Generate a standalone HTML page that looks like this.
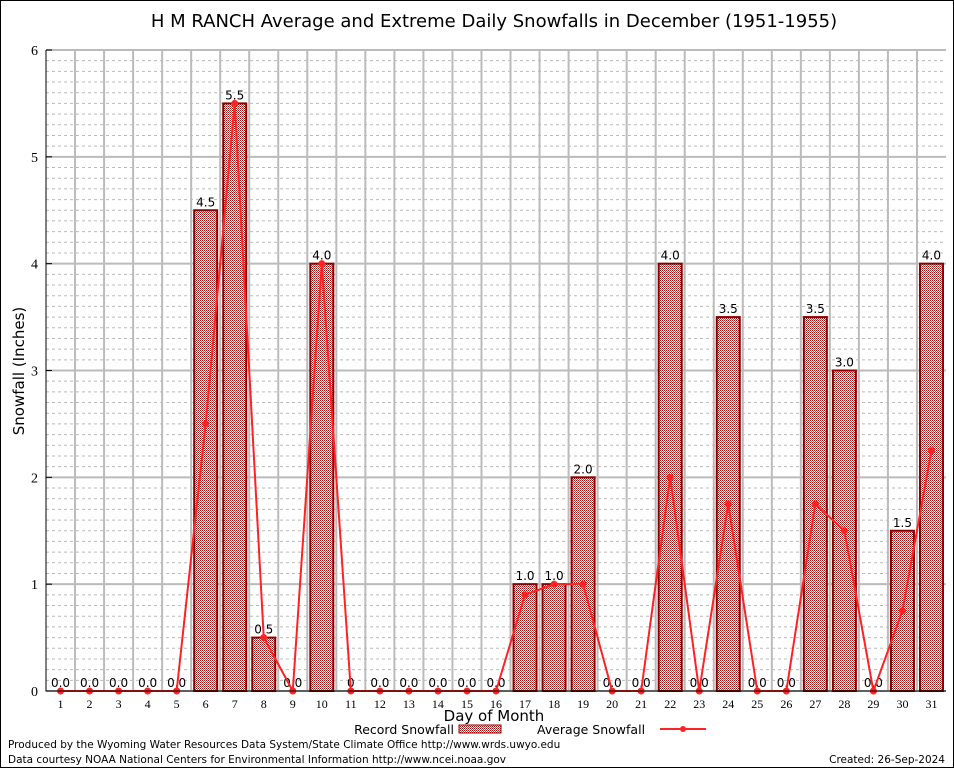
<!DOCTYPE html>
<html><head><meta charset="utf-8"><style>
body{margin:0;background:#fff;}
svg{display:block;font-family:"DejaVu Sans",sans-serif;}
</style></head><body>
<svg id="chart" width="954" height="768">
<defs>
<pattern id="chk" width="2" height="2" patternUnits="userSpaceOnUse">
<rect width="2" height="2" fill="#fff"/><rect width="1" height="1" fill="#a01010"/><rect x="1" y="1" width="1" height="1" fill="#c05050"/>
</pattern>
</defs>
<rect x="0.5" y="0.5" width="953" height="767" fill="#fff" stroke="#000"/>
<text x="494" y="27" font-size="18" text-anchor="middle">H M RANCH Average and Extreme Daily Snowfalls in December (1951-1955)</text>
<g id="grid"></g>
<g id="bars"></g>
<g id="line"></g>
<g id="axes"></g>
<text transform="translate(24,371) rotate(-90)" font-size="15" text-anchor="middle">Snowfall (Inches)</text>
<text x="494" y="721" font-size="15" text-anchor="middle">Day of Month</text>
<g>
<text x="454" y="734" font-size="12.5" text-anchor="end">Record Snowfall</text>
<rect x="459" y="725" width="42" height="8" fill="url(#chk)" stroke="#8b0000"/>
<text x="537" y="734" font-size="12.5">Average Snowfall</text>
<line x1="660" y1="729" x2="706" y2="729" stroke="#f22" stroke-width="2"/>
<circle cx="683" cy="729" r="3" fill="#f22"/>
</g>
<text x="8" y="748" font-size="10.5">Produced by the Wyoming Water Resources Data System/State Climate Office http://www.wrds.uwyo.edu</text>
<text x="8" y="763" font-size="10.5">Data courtesy NOAA National Centers for Environmental Information http://www.ncei.noaa.gov</text>
<text x="945" y="763" font-size="10.5" text-anchor="end">Created:  26-Sep-2024</text>
</svg>
<script>
const days=[1,2,3,4,5,6,7,8,9,10,11,12,13,14,15,16,17,18,19,20,21,22,23,24,25,26,27,28,29,30,31];
const recordValues=[0,0,0,0,0,4.5,5.5,0.5,0,4.0,null,0,0,0,0,0,1.0,1.0,2.0,0,0,4.0,0,3.5,0,0,3.5,3.0,0,1.5,4.0];
const recordLabels=["0.0","0.0","0.0","0.0","0.0","4.5","5.5","0.5","0.0","4.0","0","0.0","0.0","0.0","0.0","0.0","1.0","1.0","2.0","0.0","0.0","4.0","0.0","3.5","0.0","0.0","3.5","3.0","0.0","1.5","4.0"];
const avgValues=[0,0,0,0,0,2.5,5.5,0.5,0,4.0,0,0,0,0,0,0,0.9,1.0,1.0,0,0,2.0,0,1.75,0,0,1.75,1.5,0,0.75,2.25];
const yTicks=[0,1,2,3,4,5,6];
const NS="http://www.w3.org/2000/svg";
const L=46,R=946,T=50,B=691,yMax=6;
const bw=(R-L)/days.length;
function x(d){return L+(d-0.5)*bw;}
function y(v){return B-(v/yMax)*(B-T);}
function mk(tag,attrs,parent){const e=document.createElementNS(NS,tag);for(const k in attrs)e.setAttribute(k,attrs[k]);parent.appendChild(e);return e;}
const grid=document.getElementById('grid'),bars=document.getElementById('bars'),line=document.getElementById('line'),axes=document.getElementById('axes');
for(let i=0;i<=yMax*10;i++){const v=i/10;if(i%10===0)continue;
 const g=mk('line',{x1:L,x2:R,y1:y(v),y2:y(v),stroke:'#bbb','stroke-dasharray':'3,3'},grid);
 }
for(let i=1;i<days.length;i++){const g=mk('line',{x1:L+i*bw,x2:L+i*bw,y1:T,y2:B,stroke:'#bbb','stroke-width':2},grid);
 }
yTicks.forEach(v=>{const g=mk('line',{x1:L,x2:R,y1:y(v),y2:y(v),stroke:'#bbb','stroke-width':2},grid);
 
 const t=mk('text',{x:L-8,y:y(v)+5,'font-size':14,'text-anchor':'end','font-family':'Liberation Serif, serif'},axes);t.textContent=v;
 
 const tk=mk('line',{x1:L,x2:L+6,y1:y(v),y2:y(v),stroke:'#000'},axes);
 });
days.forEach((d,i)=>{const v=recordValues[i];
 if(v>0){const r=mk('rect',{x:x(d)-11.5,y:y(v),width:23,height:B-y(v),fill:'url(#chk)',stroke:'#8b0000','stroke-width':2},bars);
  }
 const lb=mk('text',{x:x(d),y:y(v||0)-4,'font-size':12,'text-anchor':'middle'},bars);lb.textContent=recordLabels[i];
 
 const t=mk('text',{x:x(d),y:B+17,'font-size':12,'text-anchor':'middle','font-family':'Liberation Serif, serif'},axes);t.textContent=d;
 });
const pl=mk('polyline',{points:days.map((d,i)=>x(d)+','+y(avgValues[i])).join(' '),fill:'none',stroke:'#f22','stroke-width':2},line);

days.forEach((d,i)=>{const c=mk('circle',{cx:x(d),cy:y(avgValues[i]),r:3.5,fill:'#f22'},line);
 });
const ax=mk('path',{d:`M${L},${T}V${B}H${R}`,fill:'none',stroke:'#000'},axes);

</script>
</body></html>
